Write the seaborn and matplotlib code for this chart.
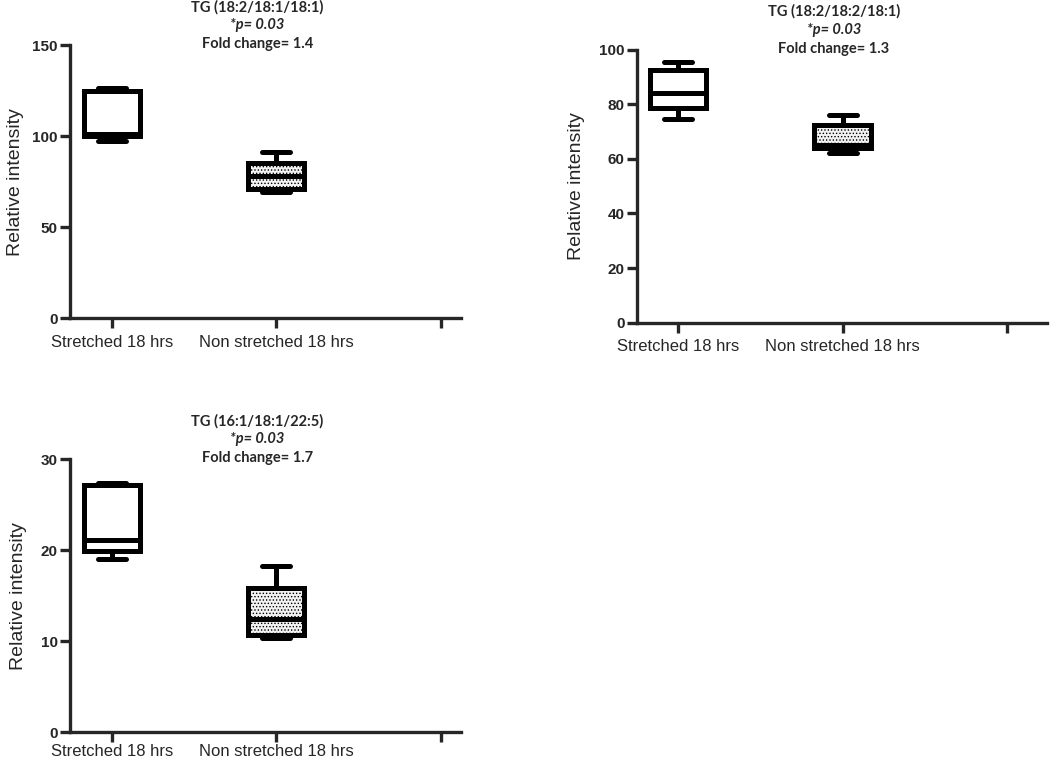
import numpy as np
import pandas as pd
import matplotlib.pyplot as plt
import seaborn as sns

# groups on the x axis (third slot is an empty category, as in the Prism export)
groups = ['Stretched 18 hrs', 'Non stretched 18 hrs']
order = groups + [' ']

# values: min, Q1, median, Q3, max
tg1_stretched = [97.5, 100.0, 101.0, 125.0, 126.5]
tg1_non = [69.5, 71.0, 78.0, 85.0, 91.0]
tg2_stretched = [74.5, 78.5, 84.0, 92.5, 95.3]
tg2_non = [62.0, 64.0, 65.0, 72.5, 76.0]
tg3_stretched = [19.0, 19.9, 21.1, 27.2, 27.4]
tg3_non = [10.4, 10.7, 12.5, 15.9, 18.3]

titles = ['TG (18:2/18:1/18:1)', 'TG (18:2/18:2/18:1)', 'TG (16:1/18:1/22:5)']
p_values = ['0.03', '0.03', '0.03']
fold_changes = ['1.4', '1.3', '1.7']
y_max = [150, 100, 30]
y_ticks = [[0, 50, 100, 150], [0, 20, 40, 60, 80, 100], [0, 10, 20, 30]]

series = [(tg1_stretched, tg1_non), (tg2_stretched, tg2_non), (tg3_stretched, tg3_non)]

sns.set_style('ticks')
plt.rcParams['hatch.linewidth'] = 0.6
plt.rcParams['font.family'] = ['Liberation Sans', 'DejaVu Sans']

fig = plt.figure(figsize=(10.5, 7.63), dpi=100)
rects = [[0.0667, 0.583, 0.372, 0.358],
         [0.607, 0.577, 0.39, 0.358],
         [0.0667, 0.040, 0.372, 0.358]]
xlims = [(-0.255, 2.12), (-0.245, 2.24), (-0.255, 2.12)]
label_pads = [5.5, 10, 10]
x_pads = [5, 5, 1.5]

for i, (st, ns) in enumerate(series):
    ax = fig.add_axes(rects[i])
    df = pd.DataFrame({
        'group': [groups[0]] * len(st) + [groups[1]] * len(ns),
        'value': st + ns,
    })
    sns.boxplot(data=df, x='group', y='value', order=order, hue='group',
                palette={groups[0]: 'white', groups[1]: '#f2f2f2'},
                width=0.34, whis=(0, 100), linecolor='black', linewidth=3.6,
                fliersize=0, legend=False, ax=ax)
    # stippled fill on the second box
    ax.patches[1].set_hatch('.....')

    ax.set_ylim(0, y_max[i])
    ax.set_yticks(y_ticks[i])
    ax.set_xlim(*xlims[i])
    ax.set_xlabel('')
    ax.set_ylabel('Relative intensity', fontsize=14, labelpad=label_pads[i])
    sns.despine(ax=ax)
    for side in ['left', 'bottom']:
        ax.spines[side].set_linewidth(2.4)
    ax.tick_params(axis='both', width=2.4, length=7, direction='out')
    ax.tick_params(axis='x', labelsize=12, pad=x_pads[i])
    ax.tick_params(axis='y', labelsize=11, pad=2)
    for lab in ax.get_yticklabels():
        lab.set_fontweight('bold')

    xc = 0.48
    tfont = ['Lato', 'DejaVu Sans']
    ax.text(xc, 1.0 + 38 / 273, titles[i], transform=ax.transAxes, ha='center',
            va='center', fontsize=10.5, fontweight='bold', family=tfont)
    ax.text(xc, 1.0 + 20 / 273, '*p= ' + p_values[i], transform=ax.transAxes,
            ha='center', va='center', fontsize=10.5, fontweight='bold',
            fontstyle='italic', family=tfont)
    ax.text(xc, 1.0 + 1 / 273, 'Fold change= ' + fold_changes[i], transform=ax.transAxes,
            ha='center', va='center', fontsize=10.5, fontweight='bold', family=tfont)

fig.savefig('out.png', dpi=100)
